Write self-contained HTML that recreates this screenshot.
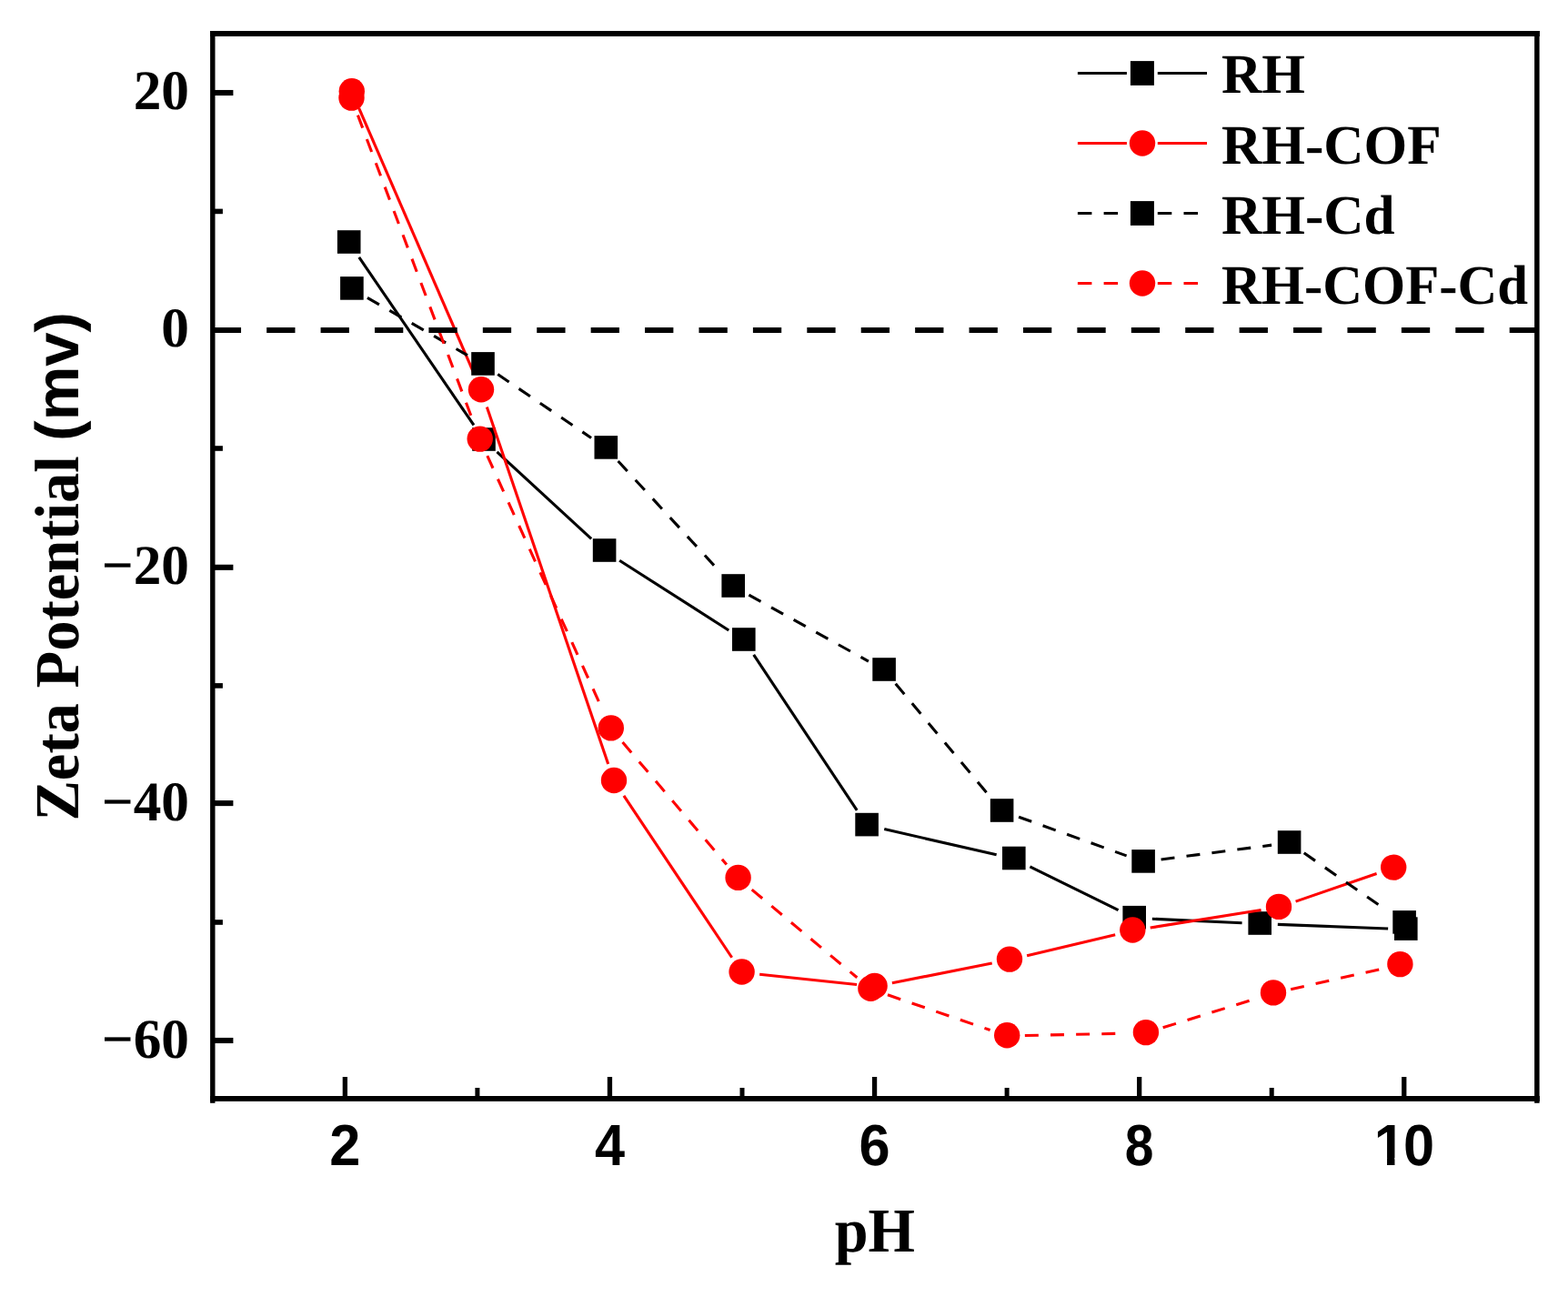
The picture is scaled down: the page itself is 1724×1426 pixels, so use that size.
<!DOCTYPE html>
<html lang="en"><head><meta charset="utf-8"><title>Zeta Potential vs pH</title>
<style>
html,body{margin:0;padding:0;background:#fff;}
body{width:1724px;height:1426px;overflow:hidden;}
svg{display:block;}
text{text-rendering:geometricPrecision;}
.ser{font-family:"Liberation Serif",serif;font-weight:bold;fill:#000;}
.san{font-family:"Liberation Sans",sans-serif;font-weight:bold;fill:#000;}
</style></head><body>
<svg width="1724" height="1426" viewBox="0 0 1724 1426">
<rect x="0" y="0" width="1724" height="1426" fill="#fff"/>
<defs><clipPath id="c10"><path clip-rule="evenodd" d="M1490 1220H1600V1300H1490Z M1500 1273H1525.05V1290H1500Z M1533.46 1273H1545V1290H1533.46Z"/></clipPath></defs>
<g id="series" fill="none" stroke-linecap="butt">
<g id="s-rh" stroke="#000" stroke-width="3.1">
<line x1="394.79" y1="282.82" x2="520.91" y2="467.38"/>
<line x1="546.46" y1="496.9" x2="650.14" y2="592.3"/>
<line x1="681.15" y1="616.19" x2="801.25" y2="693.01"/>
<line x1="828.68" y1="719.97" x2="942.22" y2="890.83"/>
<line x1="972.26" y1="911.57" x2="1095.64" y2="939.73"/>
<line x1="1132.43" y1="952.78" x2="1229.57" y2="1000.62"/>
<line x1="1266.83" y1="1010.2" x2="1365.57" y2="1014.7"/>
<line x1="1404.84" y1="1016.35" x2="1526.16" y2="1020.95"/>
</g>
<g fill="#000" stroke="none">
<rect x="370.9" y="253.2" width="25.6" height="25.6"/>
<rect x="519.2" y="470.2" width="25.6" height="25.6"/>
<rect x="651.8" y="592.2" width="25.6" height="25.6"/>
<rect x="805" y="690.2" width="25.6" height="25.6"/>
<rect x="940.3" y="893.8" width="25.6" height="25.6"/>
<rect x="1102" y="930.7" width="25.6" height="25.6"/>
<rect x="1234.4" y="995.9" width="25.6" height="25.6"/>
<rect x="1372.4" y="1002.2" width="25.6" height="25.6"/>
<rect x="1533" y="1008.3" width="25.6" height="25.6"/>
</g>
<g id="s-rh-cof" stroke="#f00" stroke-width="3.1">
<line x1="394.62" y1="118.83" x2="521.18" y2="410.77"/>
<line x1="535.32" y1="447.41" x2="668.68" y2="839.99"/>
<line x1="685.91" y1="874.94" x2="804.69" y2="1052.76"/>
<line x1="835.14" y1="1071.17" x2="942.06" y2="1082.53"/>
<line x1="980.88" y1="1080.78" x2="1090.72" y2="1059.02"/>
<line x1="1129.12" y1="1050.66" x2="1226.18" y2="1027.64"/>
<line x1="1264.71" y1="1020.01" x2="1386.59" y2="1000.59"/>
<line x1="1424.59" y1="991.12" x2="1513.61" y2="960.58"/>
</g>
<g fill="#f00" stroke="none">
<circle cx="386.8" cy="100.2" r="14.2"/>
<circle cx="529" cy="428.2" r="14.2"/>
<circle cx="675" cy="858" r="14.2"/>
<circle cx="815.6" cy="1068.5" r="14.2"/>
<circle cx="961.6" cy="1084" r="14.2"/>
<circle cx="1110" cy="1054.6" r="14.2"/>
<circle cx="1245.3" cy="1022.5" r="14.2"/>
<circle cx="1406" cy="996.9" r="14.2"/>
<circle cx="1532.2" cy="953.6" r="14.2"/>
</g>
<g id="s-rh-cd" stroke="#000" stroke-width="3.1" stroke-dasharray="15.0 13.149999999999999">
<line x1="403.93" y1="327.31" x2="513.97" y2="390.69"/>
<line x1="547.25" y1="411.55" x2="650.05" y2="481.45"/>
<line x1="679.6" y1="506.96" x2="792.9" y2="630.14"/>
<line x1="823.38" y1="654.13" x2="954.92" y2="727.07"/>
<line x1="984.7" y1="751.68" x2="1089" y2="876.52"/>
<line x1="1120.09" y1="898.25" x2="1238.61" y2="940.85"/>
<line x1="1276.59" y1="944.96" x2="1398.11" y2="929.14"/>
<line x1="1433.74" y1="937.81" x2="1524.97" y2="1001.21"/>
</g>
<g fill="#000" stroke="none">
<rect x="374.1" y="304.1" width="25.6" height="25.6"/>
<rect x="518.2" y="387.1" width="25.6" height="25.6"/>
<rect x="653.5" y="479.1" width="25.6" height="25.6"/>
<rect x="793.4" y="631.2" width="25.6" height="25.6"/>
<rect x="959.3" y="723.2" width="25.6" height="25.6"/>
<rect x="1088.8" y="878.2" width="25.6" height="25.6"/>
<rect x="1244.3" y="934.1" width="25.6" height="25.6"/>
<rect x="1404.8" y="913.2" width="25.6" height="25.6"/>
<rect x="1531.3" y="1001.1" width="25.6" height="25.6"/>
</g>
<g id="s-rh-cof-cd" stroke="#f00" stroke-width="3.1" stroke-dasharray="15.0 13.149999999999999">
<line x1="393.42" y1="126.59" x2="520.78" y2="464.81"/>
<line x1="535.81" y1="501.1" x2="663.69" y2="783.1"/>
<line x1="684.52" y1="815.97" x2="798.88" y2="950.53"/>
<line x1="826.68" y1="978.1" x2="942.32" y2="1074.8"/>
<line x1="975.98" y1="1093.79" x2="1088.62" y2="1132.51"/>
<line x1="1126.85" y1="1138.49" x2="1237.92" y2="1136.16"/>
<line x1="1278.66" y1="1129.85" x2="1381.24" y2="1097.85"/>
<line x1="1419.17" y1="1087.7" x2="1520.23" y2="1065"/>
</g>
<g fill="#f00" stroke="none">
<circle cx="386.5" cy="107.6" r="14.2"/>
<circle cx="527.7" cy="482.6" r="14.2"/>
<circle cx="671.8" cy="800.4" r="14.2"/>
<circle cx="811.6" cy="964.9" r="14.2"/>
<circle cx="957.4" cy="1086.8" r="14.2"/>
<circle cx="1107.2" cy="1138.3" r="14.2"/>
<circle cx="1259.9" cy="1135.1" r="14.2"/>
<circle cx="1400" cy="1091.4" r="14.2"/>
<circle cx="1539.4" cy="1060.1" r="14.2"/>
</g>
</g>
<g id="zero-line"><line x1="233.75" y1="362.9" x2="1689.8" y2="362.9" stroke="#000" stroke-width="6" stroke-dasharray="31.3 28.115"/></g>
<g id="axes" fill="#000">
<rect x="231.1" y="34" width="5.4" height="1178.8"/>
<rect x="1687.1" y="34" width="5.5" height="1178.8"/>
<rect x="231.1" y="34" width="1461.8" height="6"/>
<rect x="231.1" y="1205" width="1461.8" height="5.9"/>
<rect x="233" y="1140.95" width="23.4" height="6.1"/>
<rect x="233" y="1011.2" width="11.9" height="5.6"/>
<rect x="233" y="880.05" width="23.4" height="6.1"/>
<rect x="233" y="751.1" width="11.9" height="5.6"/>
<rect x="233" y="620.75" width="23.4" height="6.1"/>
<rect x="233" y="490.2" width="11.9" height="5.6"/>
<rect x="233" y="229.6" width="11.9" height="5.6"/>
<rect x="233" y="98.95" width="23.4" height="6.1"/>
<rect x="376.7" y="1184" width="5.3" height="24"/>
<rect x="522.4" y="1196" width="5" height="12"/>
<rect x="667.8" y="1184" width="5.3" height="24"/>
<rect x="813.5" y="1196" width="5" height="12"/>
<rect x="958.9" y="1184" width="5.3" height="24"/>
<rect x="1104.6" y="1196" width="5" height="12"/>
<rect x="1250" y="1184" width="5.3" height="24"/>
<rect x="1395.7" y="1196" width="5" height="12"/>
<rect x="1541.1" y="1184" width="5.3" height="24"/>
</g>
<g id="ylabels" class="ser" font-size="61.3" text-anchor="end">
<text transform="translate(208 120.3) scale(1 1.007)">20</text>
<text transform="translate(208 380.9) scale(1 1.007)">0</text>
<text transform="translate(208 641.5) scale(1 1.007)">−20</text>
<text transform="translate(208 902.1) scale(1 1.007)">−40</text>
<text transform="translate(208 1162.7) scale(1 1.007)">−60</text>
</g>
<g id="xlabels" class="san" font-size="61.3" text-anchor="middle">
<text transform="translate(379.35 1280.7) scale(1 1.042)">2</text>
<text transform="translate(670.45 1280.7) scale(0.97 1.042)">4</text>
<text transform="translate(961.55 1280.7) scale(1 1.042)">6</text>
<text transform="translate(1252.65 1280.7) scale(0.93 1.042)">8</text>
<g clip-path="url(#c10)"><text transform="translate(1542.95 1280.7) scale(1 1.042)" letter-spacing="-1.8">10</text></g>
</g>
<text class="ser" font-size="66.2" text-anchor="middle" transform="translate(961.9 1376.4) scale(1 1.04)">pH</text>
<text font-size="66.6" transform="translate(86 902.6) rotate(-90) scale(1 1.035)" xml:space="preserve"><tspan class="ser">Zeta Potential </tspan><tspan class="san" font-size="64.73" textLength="141.4" lengthAdjust="spacingAndGlyphs">(mv)</tspan></text>
<g id="legend">
<g stroke="#000" stroke-width="3" stroke-linecap="butt" fill="none">
<line x1="1184.9" y1="80.5" x2="1238.9" y2="80.5"/>
<line x1="1272.8" y1="80.5" x2="1327" y2="80.5"/>
</g>
<rect x="1242.9" y="67.1" width="26" height="26.8" fill="#000"/>
<text class="ser" font-size="61.3" transform="translate(1343 102.2) scale(1 1)">RH</text>
<g stroke="#f00" stroke-width="3" stroke-linecap="butt" fill="none">
<line x1="1184.9" y1="157.5" x2="1238.9" y2="157.5"/>
<line x1="1272.8" y1="157.5" x2="1327" y2="157.5"/>
</g>
<circle cx="1256" cy="157.5" r="14.2" fill="#f00"/>
<text class="ser" font-size="61.3" transform="translate(1343 179.6) scale(1 1)">RH-COF</text>
<g stroke="#000" stroke-width="3" stroke-linecap="butt" fill="none" stroke-dasharray="15.5 13.2">
<line x1="1184.9" y1="234.5" x2="1238.9" y2="234.5"/>
<line x1="1272.8" y1="234.5" x2="1327" y2="234.5"/>
</g>
<rect x="1242.9" y="221.1" width="26" height="26.8" fill="#000"/>
<text class="ser" font-size="61.3" transform="translate(1343 256.8) scale(1 1)">RH-Cd</text>
<g stroke="#f00" stroke-width="3" stroke-linecap="butt" fill="none" stroke-dasharray="15.5 13.2">
<line x1="1184.9" y1="311.5" x2="1238.9" y2="311.5"/>
<line x1="1272.8" y1="311.5" x2="1327" y2="311.5"/>
</g>
<circle cx="1256" cy="311.5" r="14.2" fill="#f00"/>
<text class="ser" font-size="61.3" transform="translate(1343 333.5) scale(0.99 1)">RH-COF-Cd</text>
</g>
</svg>
</body></html>
